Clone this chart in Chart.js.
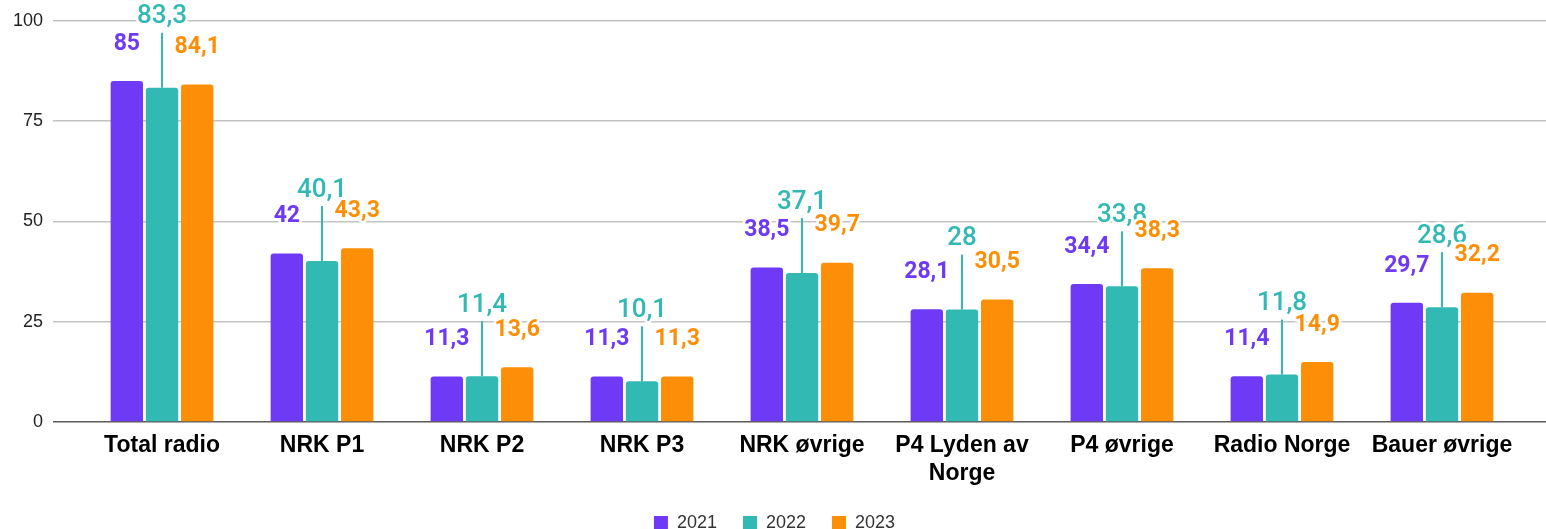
<!DOCTYPE html>
<html>
<head>
<meta charset="utf-8">
<script src="https://cdn.jsdelivr.net/npm/chart.js@4"></script>
<style>
  html, body { margin: 0; padding: 0; background: #fff; }
  #wrap { width: 1546px; height: 529px; }
</style>
</head>
<body>
<div id="wrap"><canvas id="chart"></canvas></div>
<script>
// Categories and values
const CATEGORIES = ["Total radio", "NRK P1", "NRK P2", "NRK P3", "NRK øvrige", ["P4 Lyden av", "Norge"], "P4 øvrige", "Radio Norge", "Bauer øvrige"];
const SERIES_NAMES = ["2021", "2022", "2023"];
const VALUES_2021 = [85, 42, 11.3, 11.3, 38.5, 28.1, 34.4, 11.4, 29.7];
const VALUES_2022 = [83.3, 40.1, 11.4, 10.1, 37.1, 28, 33.8, 11.8, 28.6];
const VALUES_2023 = [84.1, 43.3, 13.6, 11.3, 39.7, 30.5, 38.3, 14.9, 32.2];
const Y_MIN = 0, Y_MAX = 100, Y_STEP = 25;

// Colors
const COLOR_2021 = "#6e3af6";
const COLOR_2022 = "#33b9b4";
const COLOR_2023 = "#fc8f07";
const COLOR_GRID = "#c3c3c3";
const COLOR_ZERO = "#5c5c5c";

function gridColor(ctx) {
    return (ctx.tick && ctx.tick.value === 0) ? COLOR_ZERO : COLOR_GRID;
}

function fmt(v) {
    return String(v).replace(".", ",");
}

// Draws the value labels, the middle series gets a leader line
const valueLabels = {
    id: "valueLabels",
    afterDatasetsDraw(chart) {
        const ctx = chart.ctx;
        ctx.save();
        // leader lines first
        const mid = chart.getDatasetMeta(1);
        ctx.strokeStyle = COLOR_2022;
        ctx.lineWidth = 2;
        mid.data.forEach(bar => {
            ctx.beginPath();
            ctx.moveTo(bar.x, bar.y);
            ctx.lineTo(bar.x, bar.y - 55);
            ctx.stroke();
        });
        ctx.textAlign = "center";
        ctx.textBaseline = "middle";
        ctx.lineJoin = "round";
        chart.data.datasets.forEach((ds, di) => {
            const meta = chart.getDatasetMeta(di);
            ctx.font = di === 1 ? "500 26px Roboto" : "bold 23px Roboto";
            meta.data.forEach((bar, i) => {
                const y = di === 1 ? bar.y - 71 : bar.y - 37;
                const txt = fmt(ds.data[i]);
                ctx.strokeStyle = "#ffffff";
                ctx.lineWidth = 5;
                ctx.strokeText(txt, bar.x, y);
                ctx.fillStyle = ds.backgroundColor;
                ctx.fillText(txt, bar.x, y);
            });
        });
        ctx.restore();
    }
};

function makeDataset(label, data, color) {
    return {
        label: label,
        data: data,
        backgroundColor: color,
        borderColor: color,
        borderWidth: 0,
        borderRadius: { topLeft: 3, topRight: 3 },
        borderSkipped: "bottom",
        categoryPercentage: 0.66,
        barPercentage: 0.92
    };
}

new Chart("chart", {
    type: "bar",
    data: {
        labels: CATEGORIES,
        datasets: [
            makeDataset(SERIES_NAMES[0], VALUES_2021, COLOR_2021),
            makeDataset(SERIES_NAMES[1], VALUES_2022, COLOR_2022),
            makeDataset(SERIES_NAMES[2], VALUES_2023, COLOR_2023)
        ]
    },
    plugins: [valueLabels],
    options: {
        responsive: true,
        maintainAspectRatio: false,
        animation: false,
        layout: {
            padding: { top: 14, left: 3, right: 0, bottom: -13 }
        },
        plugins: {
            tooltip: { enabled: false },
            legend: {
                position: "bottom",
                labels: {
                    boxWidth: 14,
                    boxHeight: 14,
                    padding: 26,
                    color: "#333333",
                    font: { family: "'Liberation Sans', Arial", size: 18 }
                }
            }
        },
        scales: {
            x: {
                grid: { display: false, drawTicks: false },
                border: { display: false },
                afterFit: (scale) => { scale.height -= 10; },
                ticks: {
                    padding: 10,
                    color: "#000000",
                    font: { family: "'Liberation Sans', Arial", size: 23, weight: "bold", lineHeight: 1.22 }
                }
            },
            y: {
                min: Y_MIN,
                max: Y_MAX,
                border: { display: false },
                grid: {
                    color: gridColor,
                    tickColor: gridColor,
                    lineWidth: 1.5,
                    tickLength: 29
                },
                ticks: {
                    stepSize: Y_STEP,
                    padding: 10,
                    color: "#222222",
                    font: { family: "'Liberation Sans', Arial", size: 18 }
                }
            },
            y2: {
                position: "right",
                min: Y_MIN,
                max: Y_MAX,
                border: { display: false },
                grid: {
                    drawOnChartArea: false,
                    color: gridColor,
                    tickColor: gridColor,
                    lineWidth: 1.5,
                    tickLength: 24
                },
                ticks: { stepSize: Y_STEP, display: false }
            }
        }
    }
});
</script>
</body>
</html>
